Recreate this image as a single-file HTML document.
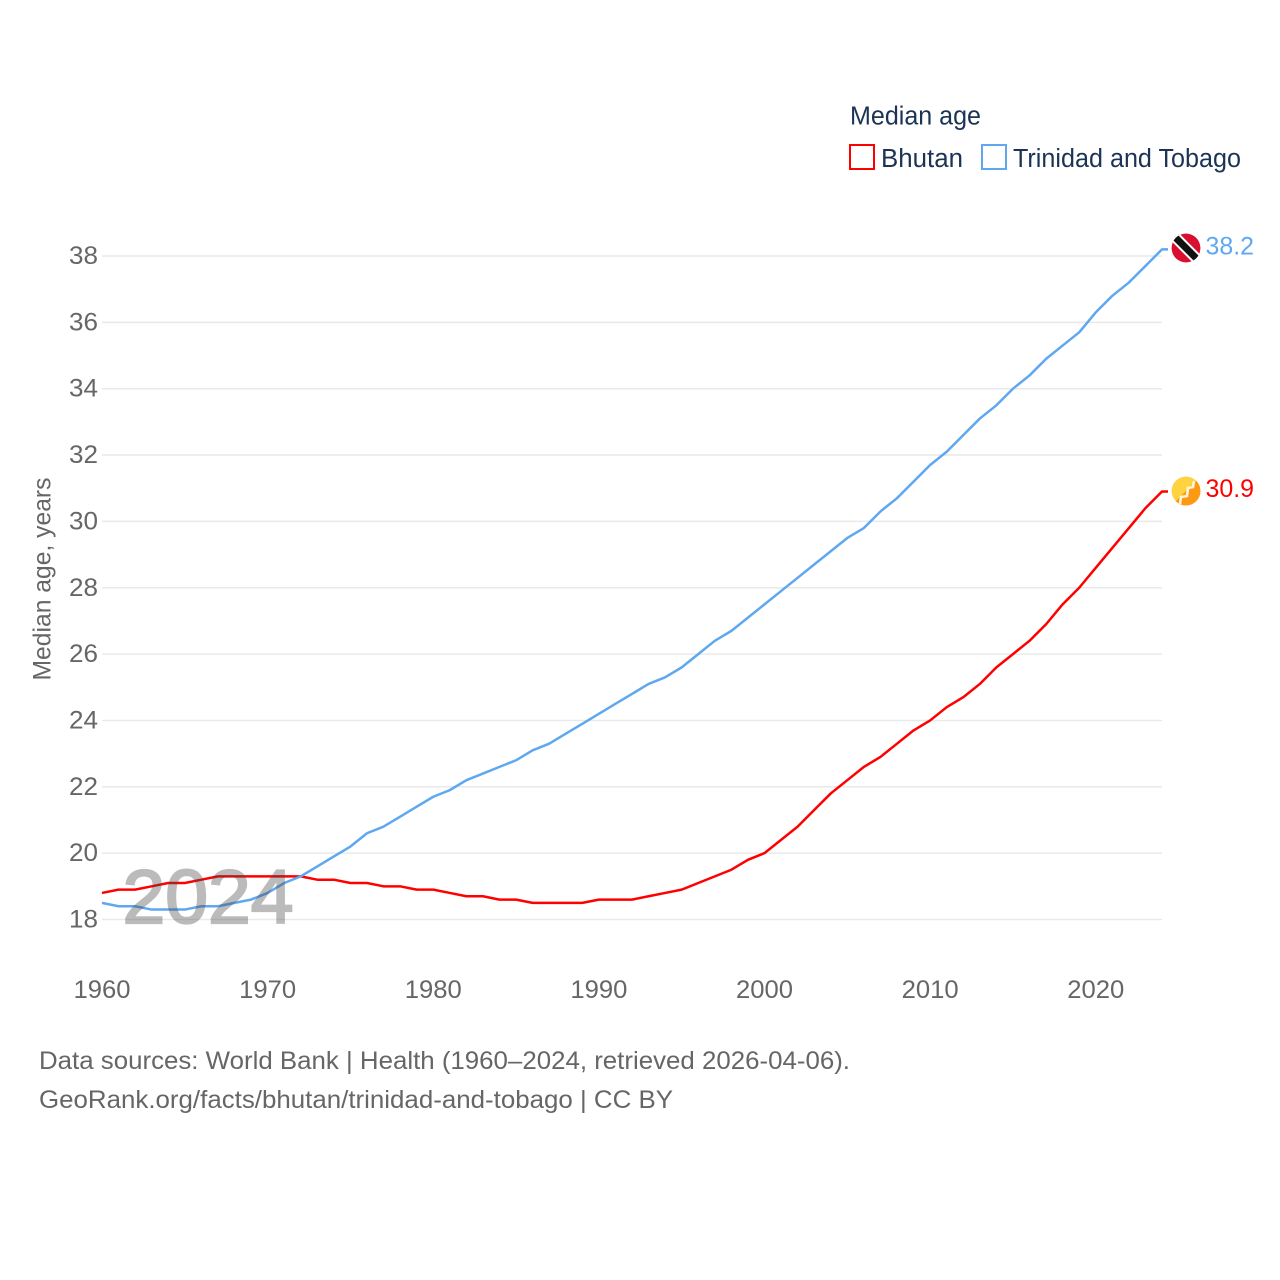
<!DOCTYPE html>
<html lang="en">
<head>
<meta charset="utf-8">
<title>Median age: Bhutan and Trinidad and Tobago</title>
<style>
html,body{margin:0;padding:0;background:#fff;width:1280px;height:1280px;overflow:hidden}
svg{display:block}
text{font-family:"Liberation Sans",sans-serif}
</style>
</head>
<body>
<svg id="chart" width="1280" height="1280" viewBox="0 0 1280 1280" xmlns="http://www.w3.org/2000/svg">
  <defs>
    <clipPath id="flag-tt-clip"><circle cx="1186" cy="248" r="14.5"/></clipPath>
    <clipPath id="flag-bt-clip"><circle cx="1186" cy="491" r="14.5"/></clipPath>
  </defs>
  <g id="grid"></g>
  <g id="y-ticks"></g>
  <g id="x-ticks"></g>
  <text transform="translate(50.5,579) rotate(-90)" text-anchor="middle" font-size="25" fill="#666" textLength="203" lengthAdjust="spacingAndGlyphs">Median age, years</text>
  <g id="series"></g>
  <text id="year-watermark" x="122.5" y="923" font-size="76" fill="#464646" stroke="#464646" stroke-width="2.2" opacity="0.36" textLength="171" lengthAdjust="spacingAndGlyphs">2024</text>

  <g id="flag-tt" clip-path="url(#flag-tt-clip)">
    <circle cx="1186" cy="248" r="14.5" fill="#da0f2f"/>
    <line x1="1170" y1="232" x2="1202" y2="264" stroke="#fff" stroke-width="11"/>
    <line x1="1170" y1="232" x2="1202" y2="264" stroke="#111" stroke-width="7"/>
  </g>
  <g id="flag-bt" clip-path="url(#flag-bt-clip)">
    <circle cx="1186" cy="491" r="14.5" fill="#ffd23f"/>
    <polygon points="1200.5,476.5 1200.5,505.5 1171.5,505.5" fill="#fc9a14"/>
    <path d="M1180 504 L1181 497 L1187 496 L1188 488 L1193 487 L1194 481" fill="none" stroke="#fff4dc" stroke-width="2.6"/>
  </g>
  <g id="end-labels"></g>

  <g>
    <text x="850" y="124.5" font-size="25.5" fill="#1b3354" textLength="131" lengthAdjust="spacingAndGlyphs">Median age</text>
    <g>
      <rect x="850" y="145" width="24" height="24" fill="none" stroke="#ff0000" stroke-width="2"/>
      <text x="881" y="167" font-size="25.5" fill="#1b3354" textLength="82" lengthAdjust="spacingAndGlyphs">Bhutan</text>
    </g>
    <g>
      <rect x="982" y="145" width="24" height="24" fill="none" stroke="#5fa8f0" stroke-width="2"/>
      <text x="1013" y="167" font-size="25.5" fill="#1b3354" textLength="228" lengthAdjust="spacingAndGlyphs">Trinidad and Tobago</text>
    </g>
  </g>

  <g>
    <text x="39" y="1069" font-size="25" fill="#666" textLength="811" lengthAdjust="spacingAndGlyphs">Data sources: World Bank | Health (1960–2024, retrieved 2026-04-06).</text>
    <text x="39" y="1108" font-size="25" fill="#666" textLength="634" lengthAdjust="spacingAndGlyphs">GeoRank.org/facts/bhutan/trinidad-and-tobago | CC BY</text>
  </g>
</svg>
<script>
const years = [1960,1961,1962,1963,1964,1965,1966,1967,1968,1969,1970,1971,1972,1973,1974,1975,1976,1977,1978,1979,1980,1981,1982,1983,1984,1985,1986,1987,1988,1989,1990,1991,1992,1993,1994,1995,1996,1997,1998,1999,2000,2001,2002,2003,2004,2005,2006,2007,2008,2009,2010,2011,2012,2013,2014,2015,2016,2017,2018,2019,2020,2021,2022,2023,2024];
const bhutanValues = [18.8,18.9,18.9,19.0,19.1,19.1,19.2,19.3,19.3,19.3,19.3,19.3,19.3,19.2,19.2,19.1,19.1,19.0,19.0,18.9,18.9,18.8,18.7,18.7,18.6,18.6,18.5,18.5,18.5,18.5,18.6,18.6,18.6,18.7,18.8,18.9,19.1,19.3,19.5,19.8,20.0,20.4,20.8,21.3,21.8,22.2,22.6,22.9,23.3,23.7,24.0,24.4,24.7,25.1,25.6,26.0,26.4,26.9,27.5,28.0,28.6,29.2,29.8,30.4,30.9];
const trinidadValues = [18.5,18.4,18.4,18.3,18.3,18.3,18.4,18.4,18.5,18.6,18.8,19.1,19.3,19.6,19.9,20.2,20.6,20.8,21.1,21.4,21.7,21.9,22.2,22.4,22.6,22.8,23.1,23.3,23.6,23.9,24.2,24.5,24.8,25.1,25.3,25.6,26.0,26.4,26.7,27.1,27.5,27.9,28.3,28.7,29.1,29.5,29.8,30.3,30.7,31.2,31.7,32.1,32.6,33.1,33.5,34.0,34.4,34.9,35.3,35.7,36.3,36.8,37.2,37.7,38.2];
const yTickValues = [18,20,22,24,26,28,30,32,34,36,38];
const xTickValues = [1960,1970,1980,1990,2000,2010,2020];

const NS = 'http://www.w3.org/2000/svg';
const xScale = function (year) { return 102 + (year - 1960) * (1060 / 64); };
const yScale = function (value) { return 919.5 - (value - 18) * (663.5 / 20); };

function make(tag, parent, attrs, content) {
  const el = document.createElementNS(NS, tag);
  Object.keys(attrs).forEach(function (k) { el.setAttribute(k, attrs[k]); });
  if (content !== undefined) el.textContent = content;
  parent.appendChild(el);
  return el;
}

const gridGroup = document.getElementById('grid');
const yTickGroup = document.getElementById('y-ticks');
const xTickGroup = document.getElementById('x-ticks');
const seriesGroup = document.getElementById('series');
const labelGroup = document.getElementById('end-labels');

yTickValues.forEach(function (v) {
  const y = yScale(v);
  const line = make('line', gridGroup, {x1: 102, x2: 1162, y1: y, y2: y, stroke: '#e9e9e9', 'stroke-width': 1.5});
  
  
  const label = make('text', yTickGroup, {x: 69, y: y + 8, 'font-size': 25, fill: '#666', textLength: 29, lengthAdjust: 'spacingAndGlyphs'}, String(v));
  
  
});

xTickValues.forEach(function (v) {
  const label = make('text', xTickGroup, {x: xScale(v) - 28.5, y: 998, 'font-size': 25, fill: '#666', textLength: 57, lengthAdjust: 'spacingAndGlyphs'}, String(v));
  
  
});

function linePoints(values) {
  const pts = values.map(function (v, i) { return xScale(years[i]).toFixed(2) + ',' + yScale(v).toFixed(2); });
  const last = values[values.length - 1];
  pts.push((xScale(years[years.length - 1]) + 6).toFixed(2) + ',' + yScale(last).toFixed(2));
  return pts.join(' ');
}

const bhutanLine = make('polyline', seriesGroup, {points: linePoints(bhutanValues), fill: 'none', stroke: '#ff0000', 'stroke-width': 2.5, 'stroke-linejoin': 'round'});



const trinidadLine = make('polyline', seriesGroup, {points: linePoints(trinidadValues), fill: 'none', stroke: '#5fa8f0', 'stroke-width': 2.5, 'stroke-linejoin': 'round'});



const lastIndex = years.length - 1;
const trinidadEnd = make('text', labelGroup, {x: 1205.5, y: yScale(trinidadValues[lastIndex]) + 5, 'font-size': 25, fill: '#5fa8f0', textLength: 48.5, lengthAdjust: 'spacingAndGlyphs'}, trinidadValues[lastIndex].toFixed(1));



const bhutanEnd = make('text', labelGroup, {x: 1205.5, y: yScale(bhutanValues[lastIndex]) + 5.5, 'font-size': 25, fill: '#ff0000', textLength: 48.5, lengthAdjust: 'spacingAndGlyphs'}, bhutanValues[lastIndex].toFixed(1));


</script>
</body>
</html>
